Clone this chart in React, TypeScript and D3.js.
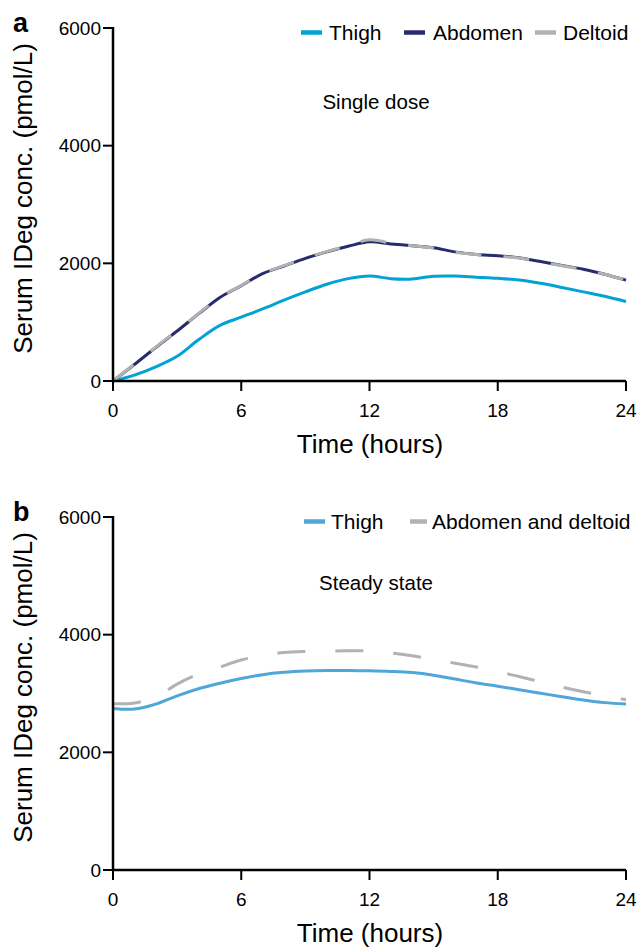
import React from 'react';
import * as d3 from 'd3';

const width = 642;
const height = 952;
const font = 'Liberation Sans, Arial, sans-serif';

const hours = [0, 1, 2, 3, 4, 5, 6, 7, 8, 9, 10, 11, 12, 13, 14, 15, 16, 17, 18, 19, 20, 21, 22, 23, 24];

// panel a - single dose
const thighSingle = [0, 100, 240, 420, 700, 945, 1085, 1225, 1375, 1515, 1645, 1740, 1785, 1740, 1735, 1780, 1785, 1765, 1745, 1715, 1660, 1590, 1515, 1440, 1350];
const abdomenSingle = [0, 280, 570, 850, 1140, 1420, 1620, 1825, 1955, 2085, 2195, 2290, 2365, 2330, 2300, 2265, 2195, 2150, 2130, 2095, 2030, 1965, 1900, 1815, 1715];
const deltoidSingle = [0, 285, 575, 855, 1145, 1425, 1625, 1830, 1960, 2090, 2200, 2300, 2400, 2345, 2300, 2260, 2190, 2150, 2120, 2090, 2025, 1960, 1895, 1815, 1715];

// panel b - steady state
const thighSteady = [2745, 2735, 2820, 2960, 3080, 3175, 3255, 3320, 3360, 3382, 3392, 3390, 3385, 3375, 3355, 3310, 3245, 3180, 3125, 3065, 3005, 2945, 2890, 2845, 2820];
const abdDeltSteady = [2825, 2840, 2940, 3160, 3330, 3450, 3570, 3645, 3695, 3715, 3722, 3725, 3722, 3690, 3640, 3580, 3515, 3450, 3370, 3290, 3200, 3110, 3030, 2960, 2895];

const xTicks = [0, 6, 12, 18, 24];
const yTicks = [0, 2000, 4000, 6000];

const x = d3.scaleLinear().domain([0, 24]).range([113, 626]);

const Panel = ({ top, letter, note, noteY, series, legend }) => {
  const y = d3.scaleLinear().domain([0, 6000]).range([top + 353, top]);
  const line = d3
    .line()
    .x((d, i) => x(hours[i]))
    .y(d => y(d))
    .curve(d3.curveCatmullRom.alpha(0.5));
  const bottom = y(0);
  return (
    <g fontFamily={font}>
      <text x={13} y={top + 4} fontSize={27} fontWeight="bold">{letter}</text>
      <text
        transform={`translate(32, ${(top + bottom) / 2 - 6}) rotate(-90)`}
        textAnchor="middle"
        fontSize={26}
      >
        Serum IDeg conc. (pmol/L)
      </text>
      {series.map((s, i) => (
        <path
          key={i}
          d={line(s.values)}
          fill="none"
          stroke={s.color}
          strokeWidth={3}
          strokeDasharray={s.dash || null}
        />
      ))}
      <line x1={x(0)} x2={x(0)} y1={top - 1} y2={bottom} stroke="#000" strokeWidth={2.5} />
      <line x1={x(0)} x2={x(24)} y1={bottom} y2={bottom} stroke="#000" strokeWidth={2.5} />
      {yTicks.map(t => (
        <g key={t}>
          <line x1={x(0) - 10} x2={x(0)} y1={y(t)} y2={y(t)} stroke="#000" strokeWidth={2} />
          <text x={x(0) - 12} y={y(t) + 6.5} textAnchor="end" fontSize={19}>{t}</text>
        </g>
      ))}
      {xTicks.map(t => (
        <g key={t}>
          <line x1={x(t)} x2={x(t)} y1={bottom} y2={bottom + 10} stroke="#000" strokeWidth={2} />
          <text x={x(t)} y={bottom + 36} textAnchor="middle" fontSize={19}>{t}</text>
        </g>
      ))}
      <text x={370} y={bottom + 72} textAnchor="middle" fontSize={26}>Time (hours)</text>
      <text x={376} y={top + noteY} textAnchor="middle" fontSize={20.5}>{note}</text>
      {legend.map((l, i) => (
        <g key={i}>
          <line
            x1={l.x}
            x2={l.x + l.w}
            y1={top + 4.5}
            y2={top + 4.5}
            stroke={l.color}
            strokeWidth={4.5}
          />
          <text x={l.tx} y={top + 11.5} fontSize={21}>{l.label}</text>
        </g>
      ))}
    </g>
  );
};

export default function App() {
  return (
    <svg width={width} height={height} style={{ display: 'block', position: 'absolute', left: 0, top: 0 }}>
      <rect width={width} height={height} fill="#fff" />
      <Panel
        top={28}
        letter="a"
        note="Single dose"
        noteY={81}
        series={[
          { values: thighSingle, color: '#00a3d4' },
          { values: abdomenSingle, color: '#262c6e' },
          { values: deltoidSingle, color: '#b2b2b2', dash: '26,22' }
        ]}
        legend={[
          { x: 301, w: 21, tx: 329, label: 'Thigh', color: '#00a3d4' },
          { x: 404, w: 21, tx: 433, label: 'Abdomen', color: '#262c6e' },
          { x: 535, w: 21, tx: 563, label: 'Deltoid', color: '#b2b2b2' }
        ]}
      />
      <Panel
        top={517}
        letter="b"
        note="Steady state"
        noteY={73}
        series={[
          { values: abdDeltSteady, color: '#b2b2b2', dash: '28,30' },
          { values: thighSteady, color: '#4ea6d9' }
        ]}
        legend={[
          { x: 304, w: 21, tx: 331, label: 'Thigh', color: '#4ea6d9' },
          { x: 410, w: 17, tx: 432, label: 'Abdomen and deltoid', color: '#b2b2b2' }
        ]}
      />
    </svg>
  );
}
